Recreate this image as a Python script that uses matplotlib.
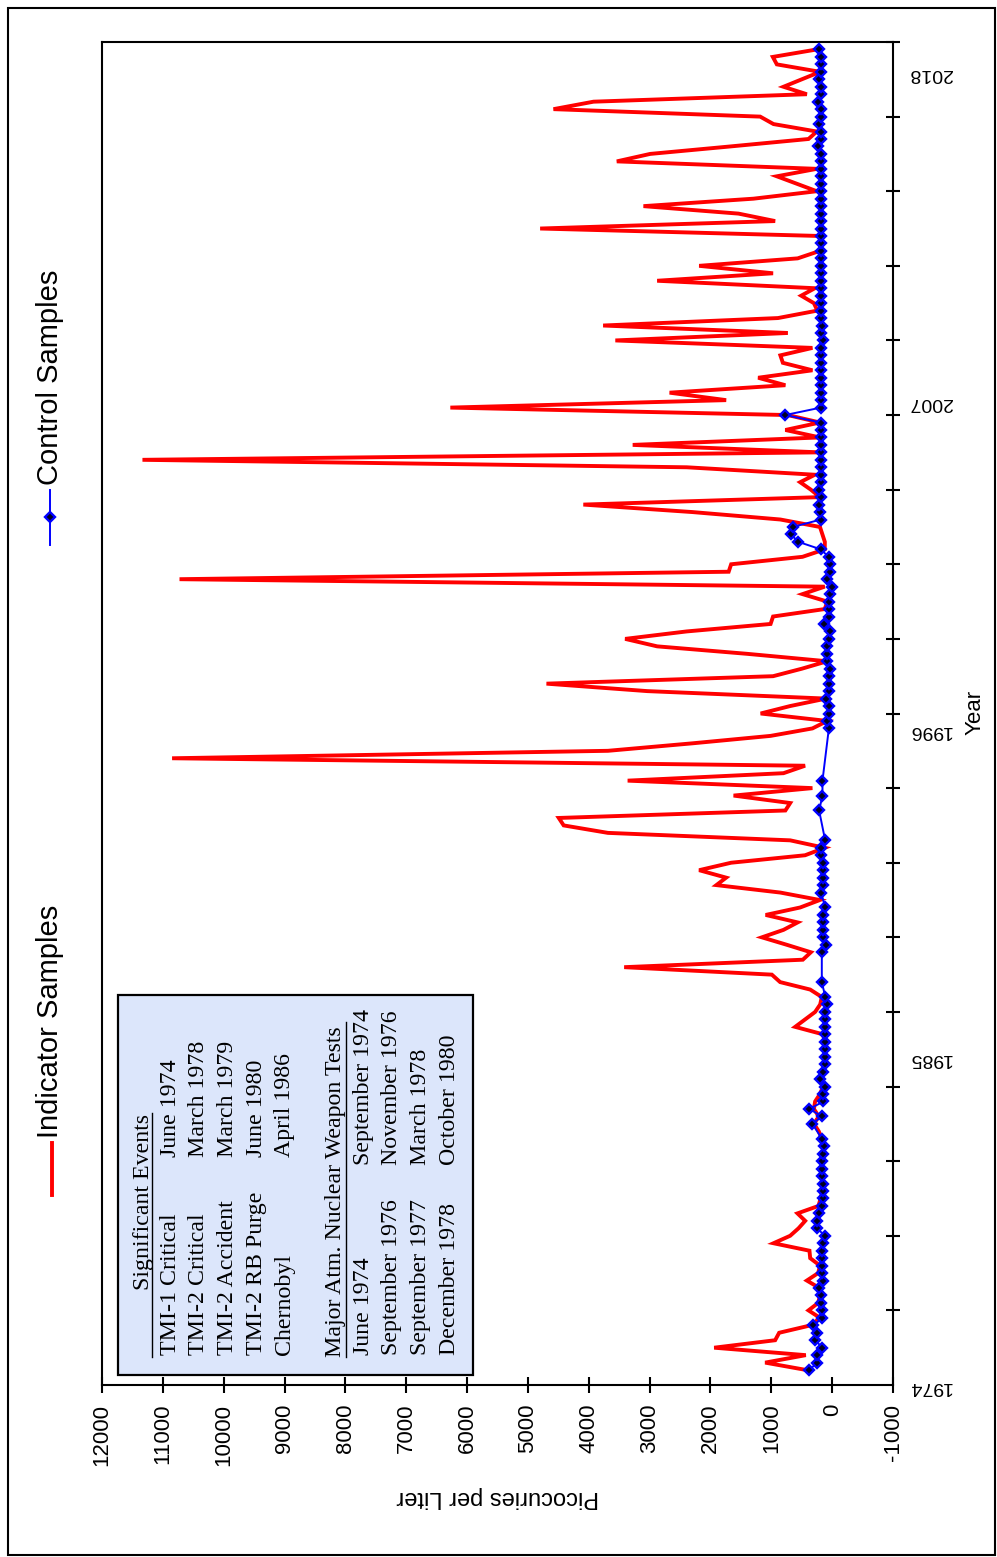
import numpy as np
import matplotlib
matplotlib.use("Agg")
import matplotlib.pyplot as plt
from matplotlib.lines import Line2D
from matplotlib.patches import Rectangle

plt.rcParams['font.family'] = ['Liberation Sans', 'DejaVu Sans']

# quarterly sampling, first sample mid 1974, last late 2018
first_sample = 1974.5
quarter = 0.25

# indicator samples (pCi/L), one row per year
indicator = [
    416, 1101,                     # 1974
    433, 1939, 937, 871,           # 1975
    350, 200, 389, 230,            # 1976
    200, 210, 416, 230,            # 1977
    200, 361, 373, 964,            # 1978
    690, 553, 443, 570,            # 1979
    225, 190, 160, 160,            # 1980
    160, 160, 170, 150,            # 1981
    140, 170, 220, 300,            # 1982
    220, 300, 280, 200,            # 1983
    150, 180, 150, 130,            # 1984
    120, 120, 120, 150,            # 1985
    608, 443, 280, 197,            # 1986
    170, 361, 855, 991,            # 1987
    3418, 482, 350, 745,           # 1988
    1155, 800, 567, 1093,          # 1989
    526, 202, 851, 1903,           # 1990
    1742, 2186, 1660, 445,         # 1991
    122, 690, 3685, 4412,          # 1992
    4493, 769, 690, 1620,          # 1993
    324, 3361, 800, 445,           # 1994
    10848, 3685, 2300, 1012,       # 1995
    324, 80, 1175, 690,            # 1996
    100, 3037, 4695, 971,          # 1997
    500, 82, 1400, 2876,           # 1998
    3402, 2390, 1012, 971,         # 1999
    122, 80, 487, 122,             # 2000
    10726, 1701, 1660, 487,        # 2001
    122, 120, 160, 200,            # 2002
    851, 2300, 4089, 202,          # 2003
    350, 526, 284, 2390,           # 2004
    11335, 202, 3278, 202,         # 2005
    769, 202, 728, 6275,           # 2006
    1742, 2672, 769, 1216,         # 2007
    324, 810, 851, 324,            # 2008
    3563, 728, 3764, 891,          # 2009
    243, 300, 509, 284,            # 2010
    2876, 971, 2186, 567,          # 2011
    202, 200, 197, 4799,           # 2012
    937, 1540, 3101, 1293,         # 2013
    252, 580, 909, 252,            # 2014
    3539, 2991, 1676, 389,         # 2015
    252, 964, 1183, 4580,          # 2016
    3922, 416, 800, 498,           # 2017
    197, 909, 975, 252,            # 2018
]

# control samples (pCi/L), None = no sample that quarter
control = [
    373, 252,                      # 1974
    252, 159, 280, 252,            # 1975
    307, 159, 170, 181,            # 1976
    190, 214, 143, 159,            # 1977
    159, 170, 159, 143,            # 1978
    115, 252, 252, 214,            # 1979
    170, 143, 143, 143,            # 1980
    170, 159, 159, 150,            # 1981
    131, 170, None, 324,           # 1982
    170, 373, 143, 143,            # 1983
    115, 197, 143, 115,            # 1984
    115, 115, 115, 115,            # 1985
    115, 112, 112, 88,             # 1986
    112, None, 170, None,          # 1987
    None, None, 170, 104,          # 1988
    143, 143, 143, 143,            # 1989
    115, None, 181, 143,           # 1990
    143, 143, 143, 181,            # 1991
    181, 115, None, None,          # 1992
    None, 214, None, 159,          # 1993
    None, 159, None, None,         # 1994
    None, None, None, None,        # 1995
    54, 88, 54, 54,                # 1996
    104, 54, 54, 60,               # 1997
    33, 88, 88, 88,                # 1998
    49, 33, 126, 60,               # 1999
    50, 50, 33, 10,                # 2000
    88, 33, 33, 60,                # 2001
    186, 554, 679, 646,            # 2002
    186, 200, 214, 186,            # 2003
    214, 186, 186, 186,            # 2004
    186, 186, 186, 186,            # 2005
    186, 186, 772, 186,            # 2006
    186, 186, 186, 186,            # 2007
    186, 181, 186, 186,            # 2008
    143, 186, 170, 186,            # 2009
    181, 186, 186, 181,            # 2010
    186, 186, 181, 186,            # 2011
    186, 186, 181, 186,            # 2012
    186, 181, 186, 186,            # 2013
    186, 186, 186, 186,            # 2014
    181, 186, 225, 186,            # 2015
    186, 214, 186, 186,            # 2016
    225, 186, 186, 214,            # 2017
    186, 186, 186, 214,            # 2018
]

year_labels = [1974, 1985, 1996, 2007, 2018]
value_ticks = list(range(-1000, 12001, 1000))

events = [
    ("TMI-1 Critical", "June 1974"),
    ("TMI-2 Critical", "March 1978"),
    ("TMI-2 Accident", "March 1979"),
    ("TMI-2 RB Purge", "June 1980"),
    ("Chernobyl", "April 1986"),
]
weapon_tests = [
    ("June 1974", "September 1974"),
    ("September 1976", "November 1976"),
    ("September 1977", "March 1978"),
    ("December 1978", "October 1980"),
]

W, H = 997, 1557
fig = plt.figure(figsize=(W / 100, H / 100), dpi=100)


def fx(px):
    return px / W


def fy(py):
    return 1 - py / H


# outer frame
fig.add_artist(Rectangle((fx(8), fy(1555)), fx(995) - fx(8), fy(8) - fy(1555),
                         transform=fig.transFigure, fill=False, edgecolor='black', lw=1.5))

ax = fig.add_axes([fx(102), fy(1385), fx(893) - fx(102), fy(42) - fy(1385)])

years = first_sample + quarter * np.arange(len(indicator))
ctrl = np.array([np.nan if v is None else v for v in control], dtype=float)
ok = ~np.isnan(ctrl)

ax.plot(indicator, years, color='#ff0000', lw=2.8, zorder=2, solid_joinstyle='miter')
ax.plot(ctrl[ok], years[ok], color='#0000ff', lw=1.4, marker='D', ms=5,
        mfc='#000020', mec='#0000ff', mew=1.7, zorder=3)

ax.set_xlim(12000, -1000)
ax.set_ylim(1974, 2019)

ax.set_xticks(value_ticks)
ax.set_xticklabels([str(v) for v in value_ticks], rotation=90, fontsize=16, va='top')
ax.tick_params(axis='x', direction='inout', length=11, width=1.5, pad=8)

ax.yaxis.tick_right()
ax.set_yticks(year_labels)
ax.set_yticklabels([str(y) for y in year_labels], rotation=180, fontsize=14)
ax.set_yticks(np.arange(1974, 2019.1, 2.5), minor=True)
ax.tick_params(axis='y', which='major', length=0, pad=11)
ax.tick_params(axis='y', which='minor', direction='inout', length=10, width=1.5)

for s in ax.spines.values():
    s.set_linewidth(1.5)

ax.set_xlabel('Picocuries per Liter', rotation=180, fontsize=17)
ax.xaxis.set_label_coords(0.5, (1385 - 1497) / 1343)
ax.xaxis.label.set_va('center')
ax.yaxis.set_label_position('right')
ax.set_ylabel('Year', rotation=90, fontsize=16)
ax.yaxis.set_label_coords((975 - 102) / 791, (1385 - 712) / 1343)
ax.yaxis.label.set_va('center')

# legend, drawn vertically like the rotated original
fig.add_artist(Line2D([fx(52), fx(52)], [fy(1195), fy(1143)], color='#ff0000', lw=2.8))
fig.text(fx(50), fy(1138), 'Indicator Samples', rotation=90, fontsize=21,
         ha='center', va='bottom')
fig.add_artist(Line2D([fx(50), fx(50)], [fy(545), fy(490)], color='#0000ff', lw=1.4))
fig.add_artist(Line2D([fx(50)], [fy(517)], marker='D', ms=5, mfc='#000020',
                      mec='#0000ff', mew=1.7))
fig.text(fx(50), fy(485), 'Control Samples', rotation=90, fontsize=21,
         ha='center', va='bottom')

# events box
fig.add_artist(Rectangle((fx(118), fy(1375)), fx(473) - fx(118), fy(995) - fy(1375),
                         transform=fig.transFigure, facecolor='#dce6fb',
                         edgecolor='black', lw=1.6, zorder=5))
serif = dict(family=['Liberation Serif', 'DejaVu Serif'], fontsize=17.2, rotation=90,
             ha='center', va='bottom', zorder=6)

fig.text(fx(143), fy(1290), 'Significant Events', **serif)
fig.add_artist(Line2D([fx(152), fx(152)], [fy(1357), fy(1113)], color='black', lw=1, zorder=6))
col = 170
for name, date in events:
    fig.text(fx(col), fy(1355), name, **serif)
    fig.text(fx(col), fy(1157), date, **serif)
    col += 28.7

fig.text(fx(335), fy(1357), 'Major Atm. Nuclear Weapon Tests', **serif)
fig.add_artist(Line2D([fx(346), fx(346)], [fy(1357), fy(1022)], color='black', lw=1, zorder=6))
col = 363
for left, right in weapon_tests:
    fig.text(fx(col), fy(1355), left, **serif)
    fig.text(fx(col), fy(1165), right, **serif)
    col += 28.7

fig.savefig('out.png', dpi=100)
